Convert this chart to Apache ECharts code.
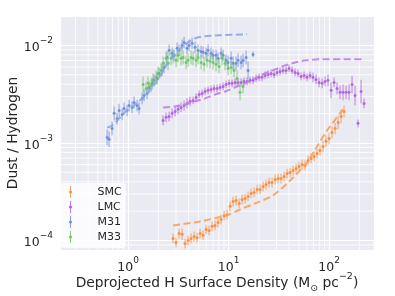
<!DOCTYPE html>
<html>
<head>
<meta charset="utf-8">
<script src="https://cdn.jsdelivr.net/npm/echarts@6/dist/echarts.min.js"></script>
<style>html,body{margin:0;padding:0;background:#fff}#c{width:395px;height:296px}</style>
</head>
<body>
<div id="c"></div>
<script>
// ---- data (Deprojected H surface density [Msun pc^-2], dust/hydrogen ratio, error in dex) ----
const seriesNames = ['SMC', 'LMC', 'M31', 'M33'];

const smcX = [2.80,3.00,3.22,3.45,3.69,3.96,4.24,4.54,4.86,5.20,5.58,5.97,6.40,6.85,7.34,7.86,8.42,9.02,9.66,10.35,11.09,11.88,12.72,13.63,14.60,15.64,16.75,17.94,19.22,20.6,22.1,23.6,25.3,27.1,29.1,31.1,33.3,35.7,38.2,40.9,43.9,47.0,50.3,53.9,57.7,61.8,66.2,70.9,76.0,81.3,87.1,93.3,100,107,115,123,132,141];
const smcY = [1.05e-4,9.54e-5,1.18e-4,1.16e-4,9.32e-5,1.00e-4,1.05e-4,1.10e-4,1.07e-4,1.18e-4,1.13e-4,1.30e-4,1.27e-4,1.40e-4,1.43e-4,1.53e-4,1.64e-4,1.80e-4,1.84e-4,2.24e-4,2.51e-4,2.57e-4,2.40e-4,2.63e-4,2.69e-4,2.83e-4,3.04e-4,3.11e-4,3.34e-4,3.34e-4,3.58e-4,3.75e-4,3.93e-4,3.93e-4,4.22e-4,4.32e-4,4.32e-4,4.53e-4,4.86e-4,4.98e-4,5.22e-4,5.47e-4,5.74e-4,6.02e-4,5.88e-4,6.62e-4,6.94e-4,7.28e-4,7.81e-4,8.38e-4,9.21e-4,1.04e-3,1.11e-3,1.28e-3,1.41e-3,1.62e-3,1.87e-3,2.10e-3];
const smcErr = [0.05,0.05,0.05,0.06,0.05,0.05,0.05,0.05,0.05,0.05,0.05,0.05,0.05,0.05,0.05,0.05,0.05,0.05,0.05,0.05,0.05,0.05,0.05,0.05,0.05,0.05,0.05,0.05,0.05,0.05,0.05,0.05,0.05,0.05,0.05,0.05,0.05,0.05,0.05,0.05,0.05,0.05,0.05,0.05,0.05,0.05,0.05,0.05,0.05,0.05,0.06,0.06,0.06,0.06,0.06,0.07,0.07,0.06];

const lmcX = [2.230,2.388,2.559,2.741,2.936,3.145,3.369,3.608,3.865,4.140,4.436,4.751,5.089,5.451,5.836,6.252,6.697,7.173,7.683,8.230,8.817,9.443,10.12,10.83,11.61,12.43,13.32,14.26,15.28,16.37,17.53,18.78,20.11,21.54,23.08,24.72,26.48,28.36,30.38,32.54,34.85,37.33,39.99,42.83,45.88,49.14,52.64,56.38,60.39,64.69,69.29,74.22,79.5,85.2,91.2,97.7,104.7,112.1,120.1,128.7,137.8,147.6,158.1,169.4,181.4,194.3,208.2,222.9];
const lmcY = [1.70e-3,1.83e-3,1.87e-3,2.01e-3,2.10e-3,2.21e-3,2.31e-3,2.42e-3,2.54e-3,2.67e-3,2.73e-3,2.93e-3,3.14e-3,3.22e-3,3.37e-3,3.46e-3,3.54e-3,3.62e-3,3.62e-3,3.71e-3,3.80e-3,3.98e-3,4.08e-3,4.08e-3,4.17e-3,4.17e-3,4.17e-3,4.27e-3,4.27e-3,4.38e-3,4.38e-3,4.59e-3,4.70e-3,4.70e-3,4.92e-3,5.04e-3,5.16e-3,5.04e-3,5.28e-3,5.41e-3,5.54e-3,5.54e-3,5.81e-3,5.54e-3,5.28e-3,5.16e-3,4.81e-3,4.92e-3,4.70e-3,4.92e-3,4.70e-3,4.48e-3,4.17e-3,4.08e-3,4.27e-3,4.38e-3,3.46e-3,4.17e-3,3.62e-3,3.30e-3,3.30e-3,3.30e-3,3.30e-3,3.98e-3,3.07e-3,1.59e-3,3.37e-3,2.54e-3];
const lmcErr = [0.05,0.05,0.05,0.05,0.05,0.05,0.05,0.05,0.05,0.05,0.04,0.04,0.04,0.04,0.04,0.04,0.04,0.04,0.04,0.04,0.04,0.04,0.04,0.04,0.04,0.04,0.04,0.04,0.04,0.04,0.04,0.04,0.04,0.04,0.04,0.04,0.04,0.04,0.04,0.04,0.04,0.04,0.04,0.04,0.04,0.04,0.04,0.04,0.04,0.04,0.05,0.05,0.05,0.05,0.05,0.06,0.08,0.05,0.06,0.07,0.08,0.07,0.08,0.09,0.10,0.04,0.12,0.05];

const m31X = [0.618,0.647,0.693,0.726,0.777,0.814,0.872,0.912,0.977,1.023,1.096,1.147,1.229,1.287,1.378,1.443,1.546,1.618,1.733,1.814,1.944,2.035,2.180,2.282,2.444,2.559,2.741,2.870,3.074,3.218,3.446,3.608,3.865,4.046,4.334,4.642,4.972,5.326,5.576,5.972,6.252,6.697,7.012,7.510,7.863,8.423,8.817,9.443,9.886,10.59,11.09,11.88,12.43,13.32,13.94,14.94,15.63,17.53];
const m31Y = [1.14e-3,1.09e-3,1.41e-3,2.01e-3,1.78e-3,2.15e-3,1.96e-3,2.26e-3,2.15e-3,2.42e-3,2.31e-3,2.60e-3,2.42e-3,2.26e-3,2.86e-3,3.07e-3,3.22e-3,3.71e-3,4.08e-3,4.38e-3,4.59e-3,5.16e-3,5.54e-3,5.95e-3,7.53e-3,8.89e-3,8.28e-3,7.90e-3,9.32e-3,8.89e-3,1.00e-2,1.07e-2,9.32e-3,1.00e-2,1.05e-2,9.54e-3,8.89e-3,8.68e-3,8.48e-3,8.28e-3,8.89e-3,8.28e-3,7.90e-3,7.90e-3,7.36e-3,8.28e-3,7.90e-3,7.02e-3,6.69e-3,7.36e-3,6.54e-3,6.54e-3,7.02e-3,6.69e-3,7.02e-3,7.53e-3,5.54e-3,8.08e-3];
const m31Err = [0.08,0.08,0.07,0.07,0.06,0.07,0.06,0.06,0.06,0.06,0.06,0.06,0.06,0.06,0.06,0.06,0.06,0.06,0.06,0.06,0.06,0.06,0.06,0.06,0.06,0.06,0.06,0.06,0.06,0.06,0.06,0.06,0.06,0.06,0.06,0.06,0.06,0.06,0.06,0.06,0.06,0.06,0.06,0.06,0.06,0.06,0.06,0.06,0.07,0.07,0.07,0.07,0.07,0.07,0.07,0.07,0.09,0.03];

const m33X = [1.410,1.511,1.581,1.694,1.774,1.899,1.988,2.130,2.230,2.388,2.500,2.679,2.804,3.004,3.145,3.369,3.527,3.778,3.954,4.236,4.436,4.751,4.972,5.326,5.704,6.110,6.545,7.012,7.510,8.045,8.617,9.231,9.886,10.59,11.34,12.15,13.01,13.94];
const m33Y = [3.98e-3,3.62e-3,4.08e-3,3.89e-3,4.38e-3,4.70e-3,5.16e-3,5.54e-3,6.54e-3,7.36e-3,6.54e-3,7.36e-3,7.71e-3,7.02e-3,7.90e-3,7.36e-3,7.53e-3,6.69e-3,7.02e-3,7.53e-3,7.36e-3,7.02e-3,7.53e-3,6.69e-3,6.39e-3,7.02e-3,6.86e-3,6.69e-3,6.39e-3,6.09e-3,7.36e-3,6.54e-3,5.81e-3,5.95e-3,5.54e-3,4.59e-3,3.30e-3,3.80e-3];
const m33Err = [0.08,0.07,0.07,0.07,0.07,0.07,0.07,0.07,0.07,0.07,0.07,0.07,0.07,0.07,0.07,0.07,0.07,0.07,0.07,0.07,0.07,0.07,0.07,0.07,0.07,0.07,0.07,0.07,0.07,0.07,0.07,0.07,0.07,0.07,0.07,0.08,0.08,0.07];

// model curves (dashed)
const smcModelX = [2.80,5.20,9.89,13.0,19.2,27.7,40.9,60.4,76.0,95.5,137.8];
const smcModelY = [1.43e-4,1.57e-4,1.84e-4,2.08e-4,2.45e-4,2.90e-4,4.12e-4,6.32e-4,9.21e-4,1.34e-3,2.21e-3];
const lmcModelX = [2.230,2.936,3.692,4.642,5.836,7.34,9.23,11.61,14.59,18.35,23.08,29.03,36.49,45.88,57.71,81.3,213];
const lmcModelY = [2.31e-3,2.37e-3,2.48e-3,2.67e-3,2.86e-3,3.14e-3,3.37e-3,3.71e-3,4.08e-3,4.59e-3,5.16e-3,5.68e-3,6.23e-3,6.69e-3,7.02e-3,7.19e-3,7.19e-3];
const m31ModelX = [0.618,0.693,0.934,1.316,1.856,2.335,2.936,3.692,4.642,5.836,8.23,15.28];
const m31ModelY = [1.44e-3,1.51e-3,2.06e-3,2.73e-3,4.08e-3,5.95e-3,8.28e-3,1.02e-2,1.18e-2,1.24e-2,1.27e-2,1.30e-2];

// axis ranges and minor grid positions
const xRange = [0.21, 280];
const yRange = [8.0e-5, 2.0e-2];
const xMinorTicks = [0.3,0.4,0.5,0.6,0.7,0.8,0.9,2,3,4,5,6,7,8,9,20,30,40,50,60,70,80,90,200];
const yMinorTicks = [9e-5,2e-4,3e-4,4e-4,5e-4,6e-4,7e-4,8e-4,9e-4,2e-3,3e-3,4e-3,5e-3,6e-3,7e-3,8e-3,9e-3];

// ---- chart ----
const FONT = 'DejaVu Sans';
const TXT = '#262626';
const colors = {SMC:'#f98b3a', LMC:'#b05fdb', M31:'#6a8cd8', M33:'#6cc464'};
const modelColors = {SMC:'#f9a05c', LMC:'#bf7fe2', M31:'#8ca6e2'};

function zip3(a,b,c){ return a.map((v,i)=>[v,b[i],c[i]]); }
function zip2(a,b){ return a.map((v,i)=>[v,b[i]]); }

function errRenderer(color){
  return function(params, api){
    const x = api.value(0), y = api.value(1), e = api.value(2);
    const c = api.coord([x, y]);
    const lo = api.coord([x, y / Math.pow(10, e)]);
    const hi = api.coord([x, y * Math.pow(10, e)]);
    return {type:'group', children:[
      {type:'line', shape:{x1:c[0], y1:lo[1], x2:c[0], y2:hi[1]}, style:{stroke:color, lineWidth:1.7, opacity:0.45}},
      {type:'circle', shape:{cx:c[0], cy:c[1], r:1.5}, style:{fill:color, opacity:0.9}}
    ]};
  };
}

function gridRenderer(dir){
  return function(params, api){
    const cs = params.coordSys;
    const p = api.coord([api.value(0), api.value(1)]);
    if (dir === 'x') {
      return {type:'line', shape:{x1:p[0], y1:cs.y, x2:p[0], y2:cs.y+cs.height}, style:{stroke:'#ffffff', lineWidth:0.8}};
    }
    return {type:'line', shape:{x1:cs.x, y1:p[1], x2:cs.x+cs.width, y2:p[1]}, style:{stroke:'#ffffff', lineWidth:0.8}};
  };
}

function powLabel(v){
  const e = Math.log10(v);
  const r = Math.round(e);
  if (Math.abs(e - r) > 1e-6) return '';
  return '{b|10}{s|' + (r < 0 ? '\u2212' + (-r) : r) + '}';
}

const labelRich = {
  b: {fontSize: 12.5, fontFamily: FONT, color: TXT, lineHeight: 18, verticalAlign: 'bottom'},
  s: {fontSize: 9, fontFamily: FONT, color: TXT, lineHeight: 11, verticalAlign: 'top'}
};

const iconPath = 'path://M2.6,0 L3.4,0 L3.4,12 L2.6,12 Z M3,4.5 A1.5,1.5 0 1 1 3,7.5 A1.5,1.5 0 1 1 3,4.5 Z';

const chart = echarts.init(document.getElementById('c'), null, {renderer:'canvas'});
const option = {
  animation: false,
  backgroundColor: '#ffffff',
  grid: {left: 60, right: 21, top: 16, bottom: 46, show: true, backgroundColor: '#EAEAF2', borderWidth: 0,
         containLabel: false, outerBoundsMode: 'none'},
  legend: {
    orient: 'vertical', left: 61, top: 183,
    data: seriesNames.map(n => ({name: n, icon: iconPath})),
    itemWidth: 20, itemHeight: 12, itemGap: 3,
    padding: [3, 4, 5, 8],
    backgroundColor: 'rgba(255,255,255,0.8)',
    borderRadius: 3,
    textStyle: {fontSize: 11, fontFamily: FONT, color: TXT, padding: [0,0,0,12]}
  },
  xAxis: {
    type: 'log', logBase: 10, min: xRange[0], max: xRange[1],
    name: 'Deprojected H Surface Density (M{sub|\u2299} pc{sup|\u22122})',
    nameLocation: 'middle', nameGap: 22, nameMoveOverlap: false,
    nameTextStyle: {fontSize: 13.8, fontFamily: FONT, color: TXT,
      rich: {sub: {fontSize: 9.5, fontFamily: FONT, color: TXT, verticalAlign: 'bottom', lineHeight: 14},
             sup: {fontSize: 9.5, fontFamily: FONT, color: TXT, verticalAlign: 'top', lineHeight: 22}}},
    axisLine: {show: false}, axisTick: {show: false},
    axisLabel: {formatter: powLabel, rich: labelRich, margin: 6},
    splitLine: {show: true, lineStyle: {color: '#ffffff', width: 1.2}}
  },
  yAxis: {
    type: 'log', logBase: 10, min: yRange[0], max: yRange[1],
    name: 'Dust / Hydrogen', nameLocation: 'middle', nameGap: 40, nameMoveOverlap: false,
    nameTextStyle: {fontSize: 13.8, fontFamily: FONT, color: TXT},
    axisLine: {show: false}, axisTick: {show: false},
    axisLabel: {formatter: powLabel, rich: labelRich, margin: 7},
    splitLine: {show: true, lineStyle: {color: '#ffffff', width: 1.2}}
  },
  series: [
    {type:'custom', name:'xminor', silent:true, z:1, renderItem: gridRenderer('x'), data: xMinorTicks.map(v=>[v, 1e-3])},
    {type:'custom', name:'yminor', silent:true, z:1, renderItem: gridRenderer('y'), data: yMinorTicks.map(v=>[1, v])},
    {type:'custom', name:'SMC', z:3, itemStyle:{color:colors.SMC}, renderItem: errRenderer(colors.SMC), data: zip3(smcX, smcY, smcErr)},
    {type:'custom', name:'LMC', z:3, itemStyle:{color:colors.LMC}, renderItem: errRenderer(colors.LMC), data: zip3(lmcX, lmcY, lmcErr)},
    {type:'custom', name:'M31', z:3, itemStyle:{color:colors.M31}, renderItem: errRenderer(colors.M31), data: zip3(m31X, m31Y, m31Err)},
    {type:'custom', name:'M33', z:3, itemStyle:{color:colors.M33}, renderItem: errRenderer(colors.M33), data: zip3(m33X, m33Y, m33Err)},
    {type:'line', name:'SMC model', z:4, showSymbol:false, smooth:0.3, data: zip2(smcModelX, smcModelY),
      lineStyle:{color:modelColors.SMC, width:2, type:[7,3.5], opacity:0.9}},
    {type:'line', name:'LMC model', z:4, showSymbol:false, smooth:0.3, data: zip2(lmcModelX, lmcModelY),
      lineStyle:{color:modelColors.LMC, width:2, type:[7,3.5], opacity:0.9}},
    {type:'line', name:'M31 model', z:4, showSymbol:false, smooth:0.3, data: zip2(m31ModelX, m31ModelY),
      lineStyle:{color:modelColors.M31, width:2, type:[7,3.5], opacity:0.9}}
  ]
};
chart.setOption(option);
</script>
</body>
</html>
